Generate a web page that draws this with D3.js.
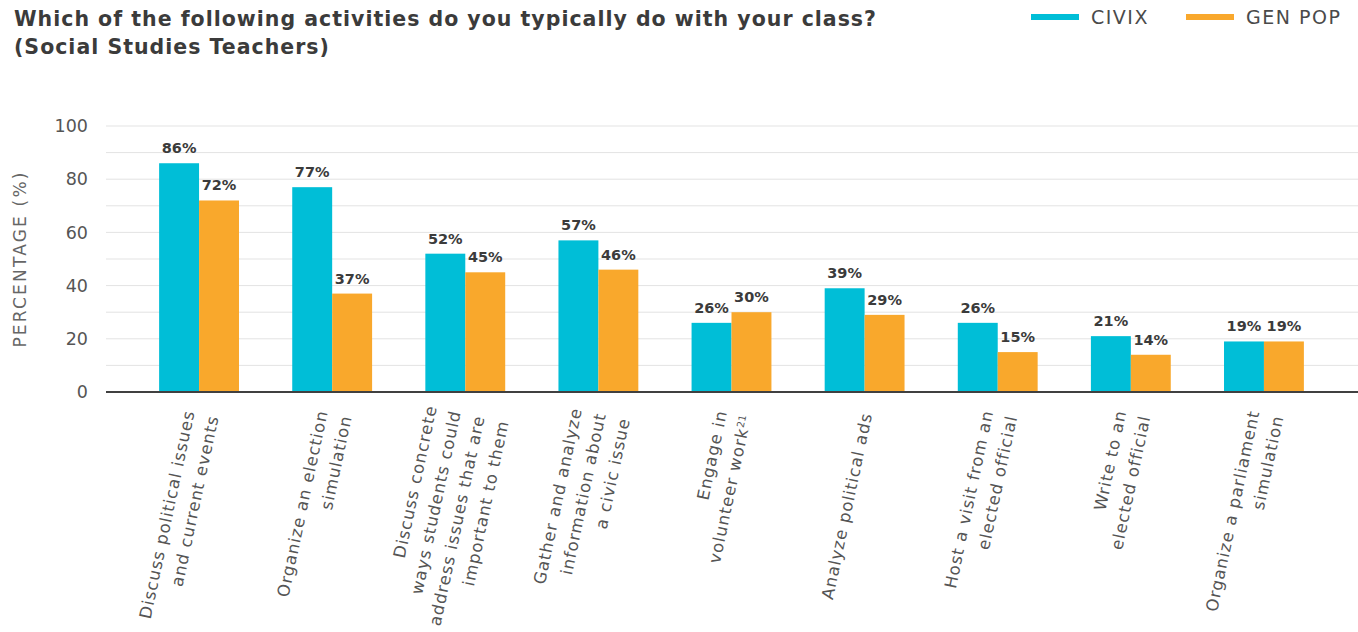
<!DOCTYPE html>
<html>
<head>
<meta charset="utf-8">
<script src="https://cdn.jsdelivr.net/npm/d3@7"></script>
<style>
  html, body { margin: 0; padding: 0; background: #fff; }
  svg { display: block; font-family: "DejaVu Sans", sans-serif; }
</style>
</head>
<body>
<svg id="chart" width="1358" height="632"></svg>
<script>
// Activities (each entry is the list of wrapped label lines)
const categories = [
  ["Discuss political issues", "and current events"],
  ["Organize an election", "simulation"],
  ["Discuss concrete", "ways students could", "address issues that are", "important to them"],
  ["Gather and analyze", "information about", "a civic issue"],
  ["Engage in", "volunteer work"],
  ["Analyze political ads"],
  ["Host a visit from an", "elected official"],
  ["Write to an", "elected official"],
  ["Organize a parliament", "simulation"]
];
// footnote marker attached to the last line of a label
const footnotes = ["", "", "", "", "21", "", "", "", ""];

const seriesNames = ["CIVIX", "GEN POP"];
const civix  = [86, 77, 52, 57, 26, 39, 26, 21, 19];
const genPop = [72, 37, 45, 46, 30, 29, 15, 14, 19];
const yTicks = [0, 20, 40, 60, 80, 100];
const gridValues = [10, 20, 30, 40, 50, 60, 70, 80, 90, 100];

const colors = ["#00bed7", "#f9a82c"];
const textDark = "#3b3b3b";

const svg = d3.select("#chart");

const plotLeft = 106, plotRight = 1358;
const y = d3.scaleLinear().domain([0, 100]).range([392, 126]);
const x = d3.scaleBand()
  .domain(d3.range(categories.length))
  .range([132.5, 1330.5])
  .paddingInner(0.4)
  .paddingOuter(0.2);
const xs = d3.scaleBand().domain([0, 1]).range([0, x.bandwidth()]);

// Title
const title = svg.append("text")
  .attr("fill", textDark)
  .attr("font-weight", "bold")
  .attr("font-size", 20.5)
  .attr("letter-spacing", 1);
title.append("tspan").attr("x", 14).attr("y", 26)
  .text("Which of the following activities do you typically do with your class?");
title.append("tspan").attr("x", 14).attr("y", 54)
  .text("(Social Studies Teachers)");

// Legend
const legendItems = [
  { name: seriesNames[0], x: 1031, color: colors[0] },
  { name: seriesNames[1], x: 1186, color: colors[1] }
];
const lg = svg.append("g").selectAll("g").data(legendItems).join("g")
  .attr("transform", d => `translate(${d.x},17)`);
lg.append("line").attr("x1", 0).attr("x2", 48).attr("y1", 0).attr("y2", 0)
  .attr("stroke", d => d.color).attr("stroke-width", 6);
lg.append("text").attr("x", 60).attr("y", 7)
  .attr("font-size", 19).attr("letter-spacing", 1.5).attr("fill", "#4a4a4a")
  .text(d => d.name);

// Gridlines
svg.append("g").selectAll("line").data(gridValues).join("line")
  .attr("x1", plotLeft).attr("x2", plotRight)
  .attr("y1", d => y(d)).attr("y2", d => y(d))
  .attr("stroke", "#e3e3e3").attr("stroke-width", 1);

// Y axis
const yAxis = svg.append("g")
  .attr("transform", `translate(${plotLeft},0)`)
  .call(d3.axisLeft(y).tickValues(yTicks).tickSize(0).tickPadding(18));
yAxis.select(".domain").remove();
yAxis.selectAll("text")
  .attr("font-family", "DejaVu Sans, sans-serif")
  .attr("font-size", 17.5).attr("fill", "#555");

svg.append("text")
  .attr("transform", `translate(26,${y(50)}) rotate(-90)`)
  .attr("text-anchor", "middle")
  .attr("font-size", 17).attr("letter-spacing", 2.2).attr("fill", "#666")
  .text("PERCENTAGE (%)");

// Bars
const rows = categories.map((c, i) => ({ i, values: [civix[i], genPop[i]] }));
const groups = svg.append("g").selectAll("g").data(rows).join("g")
  .attr("transform", d => `translate(${x(d.i)},0)`);

groups.selectAll("rect").data(d => d.values.map((v, s) => ({ v, s }))).join("rect")
  .attr("x", d => xs(d.s))
  .attr("width", xs.bandwidth())
  .attr("y", d => y(d.v))
  .attr("height", d => y(0) - y(d.v))
  .attr("fill", d => colors[d.s]);

groups.selectAll("text.val").data(d => d.values.map((v, s) => ({ v, s }))).join("text")
  .attr("class", "val")
  .attr("x", d => xs(d.s) + xs.bandwidth() / 2)
  .attr("y", d => y(d.v) - 10)
  .attr("text-anchor", "middle")
  .attr("font-size", 14.5).attr("font-weight", "bold")
  .attr("fill", textDark)
  .text(d => d.v + "%");

// Baseline
svg.append("line")
  .attr("x1", plotLeft).attr("x2", plotRight)
  .attr("y1", y(0)).attr("y2", y(0))
  .attr("stroke", "#404040").attr("stroke-width", 2);

// Category labels (rotated, right-aligned, block centred on each group)
const lineH = 24.5;
const labels = svg.append("g").selectAll("text").data(categories).join("text")
  .attr("transform", (d, i) => `translate(${x(i) + x.bandwidth() / 2 + 2},413) rotate(-78)`)
  .attr("text-anchor", "end")
  .attr("font-size", 16.5)
  .attr("letter-spacing", 1)
  .attr("fill", "#555");
labels.each(function(lines, i) {
  const t = d3.select(this);
  const n = lines.length;
  lines.forEach((ln, k) => {
    const ts = t.append("tspan")
      .attr("x", 0)
      .attr("y", (k - (n - 1) / 2) * lineH)
      .attr("dy", "0.35em")
      .text(ln);
    if (k === n - 1 && footnotes[i]) {
      ts.append("tspan").attr("font-size", 10).attr("baseline-shift", "super")
        .attr("letter-spacing", 0)
        .text(footnotes[i]);
    }
  });
});
</script>
</body>
</html>
